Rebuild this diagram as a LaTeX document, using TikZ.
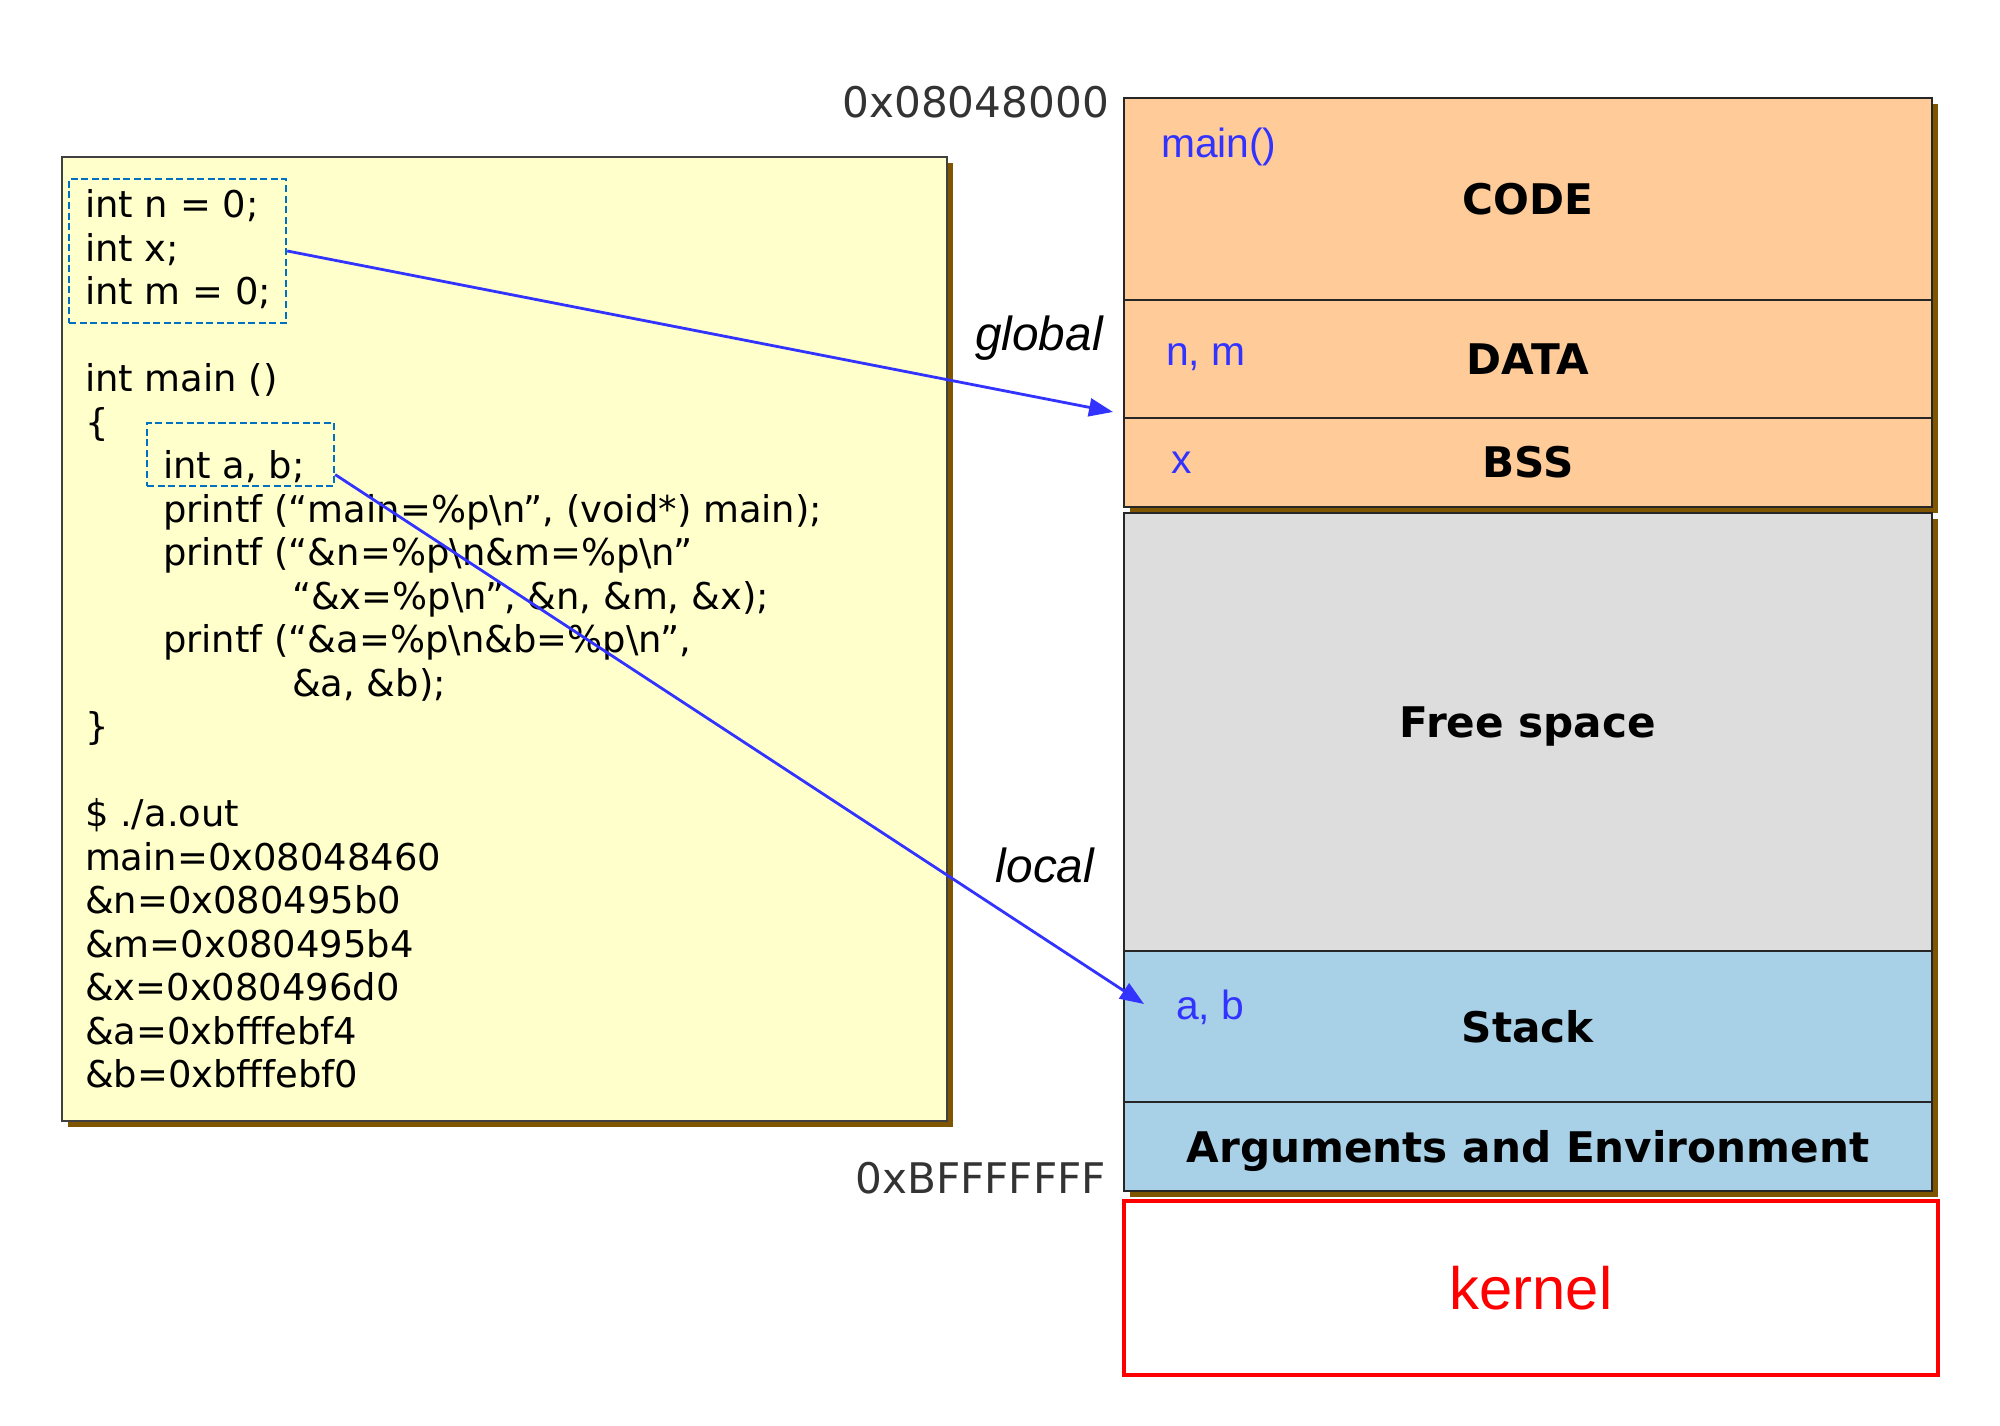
\documentclass[tikz,border=0pt]{standalone}
\usepackage{fontspec}
\setmainfont{Liberation Sans}
\newfontfamily\codefont{DejaVu Sans}
\usetikzlibrary{arrows.meta, positioning, shadows}
\definecolor{cpaper}{HTML}{FFFFCC}
\definecolor{cshadow}{HTML}{7F5500}
\definecolor{corange}{HTML}{FFCC99}
\definecolor{cfree}{HTML}{DDDDDD}
\definecolor{cstack}{HTML}{A8D0E6}
\definecolor{cdash}{HTML}{0070C0}
\definecolor{cblue}{HTML}{3333FF}
\definecolor{cred}{HTML}{FF0000}
\newcommand{\escn}{\textbackslash n}
\tikzset{
  every picture/.style={line width=0.6pt},
  shadowed/.style={drop shadow={shadow xshift=.06cm, shadow yshift=-.06cm, fill=cshadow, opacity=1}},
  codeline/.style={anchor=base west, inner sep=0pt, font=\codefont\fontsize{10.5}{12.4}\selectfont},
  dashbox/.style={draw=cdash, dash pattern=on 2pt off 1pt, line width=0.7pt},
  seg/.style={draw=black!85, fill=#1, minimum width=8.08cm, outer sep=0pt, shadowed, font=\codefont\bfseries\fontsize{12}{14}\selectfont},
  var/.style={anchor=west, inner sep=0pt, text=cblue, font=\fontsize{11.6}{14}\selectfont},
  kind/.style={font=\itshape\fontsize{13.6}{16}\selectfont},
  addr/.style={anchor=east, inner sep=0pt, text=black!80, font=\codefont\fontsize{12}{14}\selectfont},
  link/.style={-{Triangle[length=2.4mm, width=1.8mm]}, draw=cblue, line width=0.8pt},
}
\begin{document}
\begin{tikzpicture}
  \useasboundingbox (0,0) rectangle (20,14.26);
  % program listing
  \node[shadowed, draw=black!75, fill=cpaper, minimum width=8.85cm, minimum height=9.64cm, anchor=north west] (src) at (0.61,12.70) {};
  \node[dashbox, minimum width=2.17cm, minimum height=1.44cm] (globals) at (1.775,11.75) {};
  \node[codeline] (g1) at (0.84,12.08) {int n = 0;};
  \node[codeline] (g2) at (0.84,11.645) {int x;};
  \node[codeline] (g3) at (0.84,11.21) {int m = 0;};
  \node[codeline] (l4) at (0.84,10.34) {int main ()};
  \node[codeline] (l5) at (0.84,9.905) {\{};
  \node[dashbox, minimum width=1.87cm, minimum height=.63cm] (locals) at (2.405,9.715) {};
  \node[codeline] (l6) at (1.62,9.47) {int a, b;};
  \node[codeline] (l7) at (1.62,9.035) {printf (“main=\%p\escn”, (void*) main);};
  \node[codeline] (l8) at (1.62,8.60) {printf (“\&n=\%p\escn\&m=\%p\escn”};
  \node[codeline] (l9) at (2.91,8.165) {“\&x=\%p\escn”, \&n, \&m, \&x);};
  \node[codeline] (l10) at (1.62,7.73) {printf (“\&a=\%p\escn\&b=\%p\escn”,};
  \node[codeline] (l11) at (2.91,7.295) {\&a, \&b);};
  \node[codeline] (l12) at (0.84,6.86) {\}};
  % program output
  \foreach \txt [count=\k from 14] in {\$ ./a.out, main=0x08048460, \&n=0x080495b0,
      \&m=0x080495b4, \&x=0x080496d0, \&a=0xbfffebf4, \&b=0xbfffebf0}
    \node[codeline] (out\k) at (0.84,{12.08-0.435*\k}) {\txt};

  % memory layout
  \node[seg=corange, minimum height=2.02cm, anchor=north west] (code) at (11.24,13.28) {CODE};
  \node[seg=corange, minimum height=1.18cm, text depth=0pt, below=0pt of code] (data) {DATA};
  \node[seg=corange, minimum height=.89cm, below=0pt of data] (bss) {BSS};
  \node[seg=cfree, minimum height=4.38cm, text depth=.2cm, below=.06cm of bss] (free) {Free space};
  \node[seg=cstack, minimum height=1.51cm, below=0pt of free] (stack) {Stack};
  \node[seg=cstack, minimum height=.89cm, text depth=0pt, below=0pt of stack] (args) {Arguments and Environment};
  \node[draw=cred, line width=1.2pt, outer sep=0pt, minimum width=8.14cm, minimum height=1.74cm, below right=.1cm and 0cm of args.south west,
        text=cred, font=\fontsize{17}{20}\selectfont] (kernel) {kernel};

  \node[var] (vmain) at (11.60,12.79) {main()};
  \node[var] (vnm) at (11.65,10.69) {n, m};
  \node[var] (vx) at (11.70,9.63) {x};
  \node[var] (vab) at (11.75,4.19) {a, b};

  \node[addr] (lo) at (11.10,13.24) {0x08048000};
  \node[addr] (hi) at (11.07,2.48) {0xBFFFFFFF};

  \node[kind] (kglobal) at (10.39,10.88) {global};
  \node[kind] (klocal) at (10.45,5.61) {local};

  \coordinate (gtip) at (11.13,10.14);
  \coordinate (ltip) at (11.44,4.22);
  \draw[link] (globals.east) -- (gtip);
  \draw[link] (locals.-12) -- (ltip);
\end{tikzpicture}
\end{document}
